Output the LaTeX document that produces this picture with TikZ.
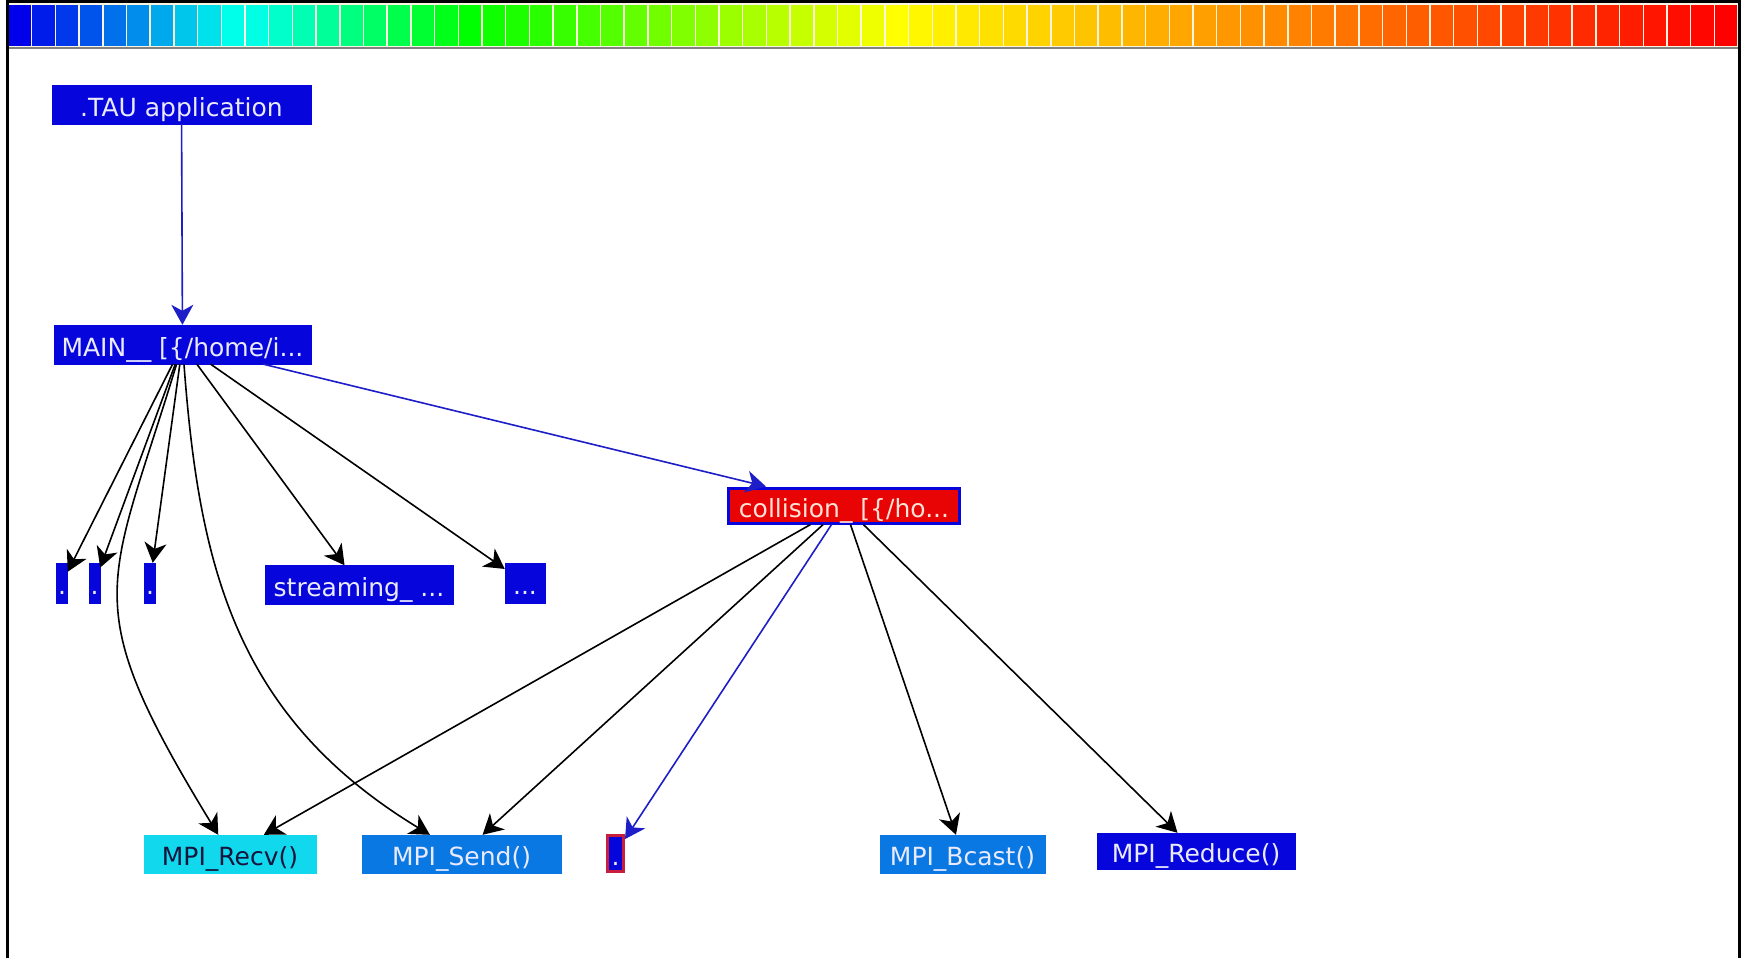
\documentclass[tikz,border=0pt]{standalone}
\usepackage{fontspec}
\setsansfont{DejaVu Sans}
\usepackage{xcolor}
\definecolor{callBlue}{HTML}{0606DC}
\definecolor{recvCyan}{HTML}{12D8EE}
\definecolor{sendBlue}{HTML}{0A78E2}
\definecolor{hotRed}{HTML}{E80404}
\definecolor{markRed}{HTML}{C81E3C}
\definecolor{edgeBlue}{HTML}{1E1EC8}
\definecolor{lightText}{HTML}{EAEAFF}
\definecolor{hotText}{HTML}{FFE2D6}
\definecolor{darkText}{HTML}{14143C}
\definecolor{barEdge}{HTML}{FAF4E0}
\usepackage{tikz}
\usetikzlibrary{arrows.meta}
\tikzset{
    % Base style for all call boxes
    callbox/.style={
        font=\sffamily\fontsize{25}{30}\selectfont,
        rectangle,
        inner sep=0pt,
        text height=23pt,
        text depth=0pt,
        fill=callBlue,
        draw=callBlue,
        text=lightText,
    },
    % Tiny boxes whose names are cut to a dot
    tinybox/.style={
        callbox,
        minimum width=11pt,
        minimum height=40pt,
    },
    % The hot routine - red with a blue frame
    hotbox/.style={
        callbox,
        fill=hotRed,
        draw=callBlue,
        line width=3pt,
        text=hotText,
    },
    % Black call arrow
    call/.style={
        -{Stealth[length=20pt, width=22pt, inset=6pt]},
        line width=1.6pt,
        draw=black,
    },
    % Blue call arrow on the hot path
    call hot/.style={
        call,
        draw=edgeBlue,
        color=edgeBlue,
    },
}

\begin{document}
\begin{tikzpicture}[x=1pt, y=-1pt]
    \useasboundingbox (0,0) rectangle (1741,958);
    \fill [white] (0,0) rectangle (1741,958);

    \foreach \i in {0,...,72} {
        \pgfmathtruncatemacro\cR{\i<=19 ? 0 : (\i<=37 ? (\i-19)/18*255 : 255)}
        \pgfmathtruncatemacro\cG{\i<=9 ? \i/9*255 : (\i<=37 ? 255 : (72-\i)/35*255)}
        \pgfmathtruncatemacro\cB{\i<=9 ? 235 : (\i<=19 ? (19-\i)/10*255 : 0)}
        \definecolor{cellCol}{RGB}{\cR,\cG,\cB}
        \filldraw [fill=cellCol, draw=barEdge, line width=1.5pt] ({8+\i*23.7},4) rectangle ++(23.7,43);
    }
    \draw [gray, line width=2pt] (8,48) -- (1738,48);
    \draw [black, line width=3pt] (7.5,958) -- (7.5,1.5) -- (1739.5,1.5) -- (1739.5,958);

    \node (tau) [callbox, minimum width=259pt, minimum height=39pt] at (181.5,104.5) {.TAU application};
    \node (main) [callbox, minimum width=257pt, minimum height=39pt] at (182.5,344.5) {MAIN\_\_ [\{/home/i...};
    \node (dotA) [tinybox] at (62,583) {.};
    \node (dotB) [tinybox] at (94.5,583) {.};
    \node (dotC) [tinybox] at (150,583) {.};
    \node (streaming) [callbox, minimum width=188pt, minimum height=39pt] at (359,585) {streaming\_ ...};
    \node (more) [tinybox, minimum width=40pt] at (525,583) {...};
    \node (collision) [hotbox, minimum width=231pt, minimum height=35pt] at (844,505.5) {collision\_ [\{/ho...};
    \node (recv) [callbox, fill=recvCyan, draw=recvCyan, text=darkText, minimum width=172pt, minimum height=38pt] at (230,854) {MPI\_Recv()};
    \node (send) [callbox, fill=sendBlue, draw=sendBlue, minimum width=199pt, minimum height=38pt] at (461.5,854) {MPI\_Send()};
    \node (mark) [tinybox, draw=markRed, line width=3pt, minimum width=16pt, minimum height=36pt] at (615.5,853.5) {.};
    \node (bcast) [callbox, fill=sendBlue, draw=sendBlue, minimum width=165pt, minimum height=38pt] at (962.5,854) {MPI\_Bcast()};
    \node (reduce) [callbox, minimum width=198pt, minimum height=36pt] at (1196,851) {MPI\_Reduce()};

    \draw [call hot] (tau) -- (main);
    \draw [call] (main) -- (dotA);
    \draw [call] (main) -- (dotB);
    \draw [call] (main) -- (dotC);
    \draw [call] (main) -- (streaming);
    \draw [call] (main) -- (more);
    \draw [call] (main) .. controls (108,590) and (75,600) .. (recv);
    \draw [call] (main) .. controls (199,564) and (234,716) .. (send);
    \draw [call hot] (main) -- (collision);
    \draw [call] (collision) -- (recv);
    \draw [call] (collision) -- (send);
    \draw [call hot] (collision) -- (mark);
    \draw [call] (collision) -- (bcast);
    \draw [call] (collision) -- (reduce);
\end{tikzpicture}
\end{document}
